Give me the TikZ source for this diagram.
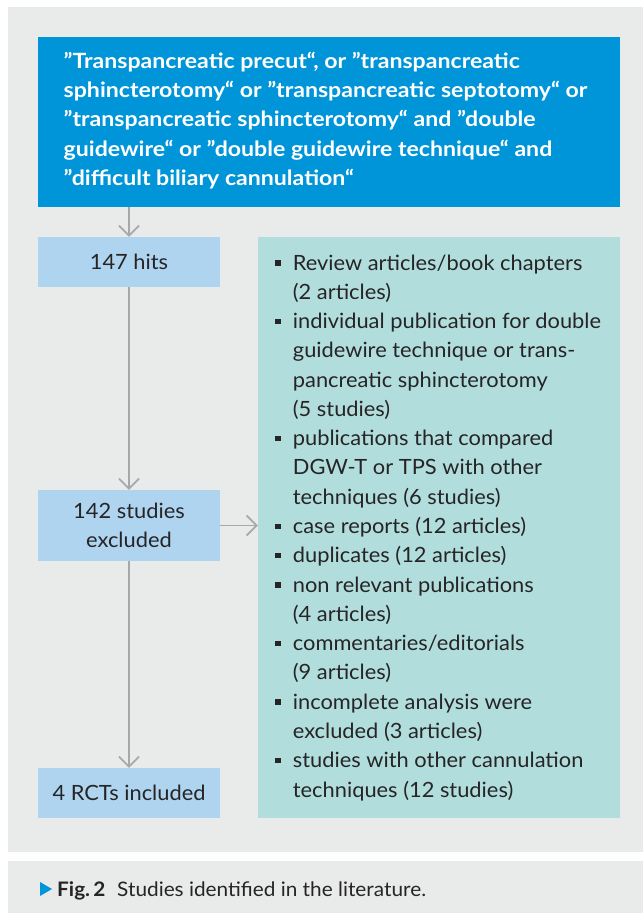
\documentclass[tikz,border=0pt]{standalone}
\usepackage{fontspec}
\setmainfont{Lato}[FakeStretch=1.04]
\newfontfamily\widefont{Lato}[FakeStretch=1.1]
\usetikzlibrary{arrows.meta}
\definecolor{panelgray}{RGB}{233,235,234}
\definecolor{topblue}{RGB}{0,149,217}
\definecolor{lightblue}{RGB}{174,212,240}
\definecolor{tealbox}{RGB}{177,222,220}
\definecolor{arrowgray}{RGB}{166,168,171}
\definecolor{textdark}{RGB}{38,36,37}
\newcommand{\sqbullet}{\raisebox{4.5pt}{\rule{5.5pt}{5.5pt}}}
\begin{document}
\begin{tikzpicture}[x=1pt,y=-1pt,
  box/.style={draw=none,inner sep=0pt,minimum width=182pt},
  leftbox/.style={box,fill=lightblue,text=textdark,align=center,font=\fontsize{21}{29.3}\selectfont},
  arr/.style={draw=arrowgray,line width=1.8pt,-{Straight Barb[length=10pt,width=20pt]}},
  txt/.style={inner sep=0pt,anchor=base west}]
\useasboundingbox (0,0) rectangle (643,913);
\fill[white] (0,0) rectangle (643,913);
\fill[panelgray] (8,7) rectangle (643,852);
\fill[panelgray] (8,861) rectangle (643,913);

% top query box
\node[box,fill=topblue,minimum width=582pt,minimum height=170pt] (query) at (329,121.8) {};
\node[txt,text=white] (querytext) at (63.5,68.3) {\widefont\bfseries\fontsize{21}{29.3}\selectfont
\begin{tabular}[t]{@{}l@{}}
”Transpancreatic precut“, or ”transpancreatic\\
sphincterotomy“ or ”transpancreatic septotomy“ or\\
”transpancreatic sphincterotomy“ and ”double\\
guidewire“ or ”double guidewire technique“ and\\
”difficult biliary cannulation“
\end{tabular}};

% left boxes
\node[leftbox,minimum height=50pt] (hits) at (129,262) {147 hits};
\node[leftbox,minimum height=71pt] (excl) at (129,525.5) {142 studies\\excluded};
\node[leftbox,minimum height=50pt] (rcts) at (129,793) {4 RCTs included};

% teal list box
\node[box,fill=tealbox,minimum width=362pt,minimum height=581pt] (list) at (439,527.5) {};
\node[txt,text=textdark] (listtext) at (275,270) {\fontsize{21}{29.28}\selectfont
\begin{tabular}[t]{@{}p{17.7pt}@{}l@{}}
\sqbullet & Review articles/book chapters\\
 & (2 articles)\\
\sqbullet & individual publication for double\\
 & guidewire technique or trans-\\
 & pancreatic sphincterotomy\\
 & (5 studies)\\
\sqbullet & publications that compared\\
 & DGW-T or TPS with other\\
 & techniques (6 studies)\\
\sqbullet & case reports (12 articles)\\
\sqbullet & duplicates (12 articles)\\
\sqbullet & non relevant publications\\
 & (4 articles)\\
\sqbullet & commentaries/editorials\\
 & (9 articles)\\
\sqbullet & incomplete analysis were\\
 & excluded (3 articles)\\
\sqbullet & studies with other cannulation\\
 & techniques (12 studies)
\end{tabular}};

% connectors
\draw[arr] (hits.north |- query.south) -- (hits.north);
\draw[arr] (hits.south) -- (excl.north);
\draw[arr] (excl.south) -- (rcts.north);
\draw[arr] (excl.east) -- (excl.east -| list.west);

% caption
\fill[topblue] (40,882) -- (52,889) -- (40,896) -- cycle;
\node[txt,text=textdark] (caption) at (57,896) {\fontsize{20}{24}\selectfont\makebox[60pt][l]{\textbf{Fig.\,2}}Studies identified in the literature.};
\end{tikzpicture}
\end{document}
